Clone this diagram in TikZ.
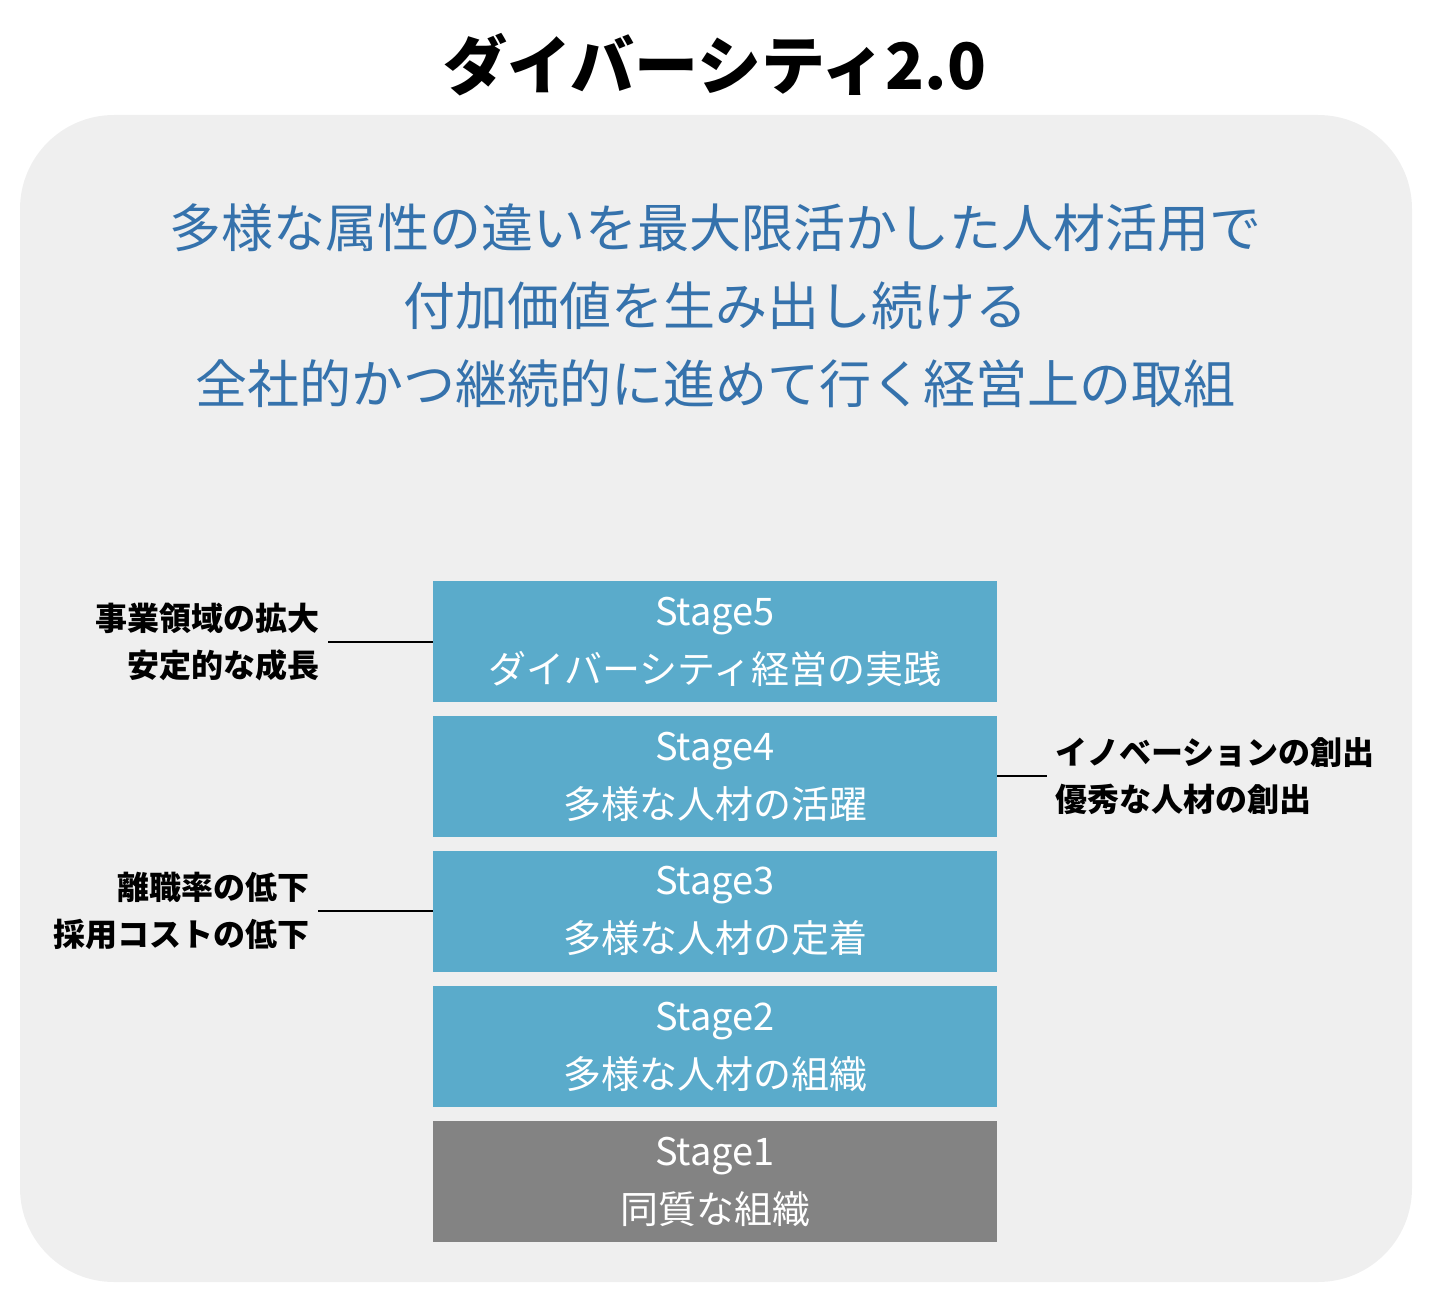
\documentclass[tikz,border=0pt]{standalone}
\usepackage{fontspec}
\setmainfont{Noto Sans CJK JP}
\usetikzlibrary{positioning}
\definecolor{panelgray}{HTML}{EFEFEF}
\definecolor{headblue}{HTML}{3572AC}
\definecolor{stageblue}{HTML}{5AABCB}
\definecolor{stagegray}{HTML}{838383}
\begin{document}
\begin{tikzpicture}[x=0.5pt, y=-0.5pt,
    stagebox/.style={fill=stageblue, text=white, minimum width=282pt, minimum height=60.5pt,
      align=center, inner sep=0pt, font=\fontsize{19}{29}\selectfont},
    note/.style={text=black, font=\bfseries\fontsize{16}{23.5}\selectfont, inner sep=4pt}]
    \useasboundingbox (0,0) rectangle (1440,1316);

    % --- 1. Titulo y panel ---
    \node[font=\bfseries\fontsize{32}{36}\selectfont] (title) at (715,65) {ダイバーシティ2.0};
    \fill[panelgray, rounded corners=47pt] (20,115) rectangle (1412,1282);

    \node[text=headblue, align=center, font=\fontsize{26}{39}\selectfont] (lead) at (715,306)
      {多様な属性の違いを最大限活かした人材活用で\\付加価値を生み出し続ける\\全社的かつ継続的に進めて行く経営上の取組};

    % --- 2. Escalones ---
    \node[stagebox] (s5) at (715,641.5) {Stage5\\ダイバーシティ経営の実践};
    \node[stagebox] (s4) at (715,776.5) {Stage4\\多様な人材の活躍};
    \node[stagebox] (s3) at (715,911) {Stage3\\多様な人材の定着};
    \node[stagebox] (s2) at (715,1046.5) {Stage2\\多様な人材の組織};
    \node[stagebox, fill=stagegray] (s1) at (715,1181.5) {Stage1\\同質な組織};

    % --- 3. Efectos ---
    \node[note, anchor=east, align=right] (n5) at (328,642) {事業領域の拡大\\安定的な成長};
    \node[note, anchor=east, align=right] (n3) at (318,911) {離職率の低下\\採用コストの低下};
    \node[note, anchor=west, align=left] (n4) at (1047,776) {イノベーションの創出\\優秀な人材の創出};

    \draw[thick] (n5.east) -- (n5.east -| s5.west);
    \draw[thick] (n3.east) -- (n3.east -| s3.west);
    \draw[thick] (s4.east |- n4.west) -- (n4.west);
\end{tikzpicture}
\end{document}
